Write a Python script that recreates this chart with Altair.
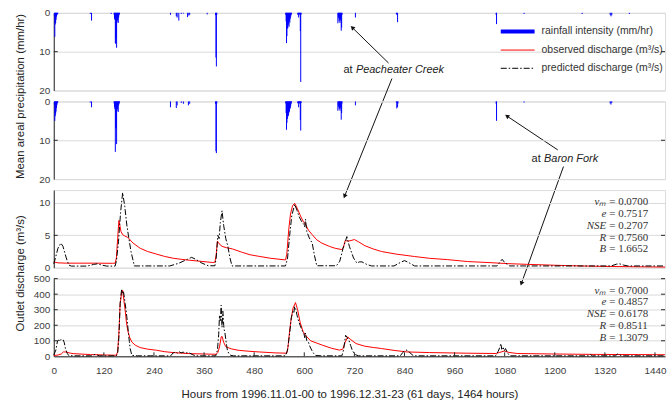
import math
import altair as alt
import pandas as pd

# ---------------- data ----------------
# hourly rainfall intensity (mm/hr) at Peacheater Creek
pc_rain_hours = [1, 2, 3, 4, 5, 6, 7, 8, 9, 87, 90, 137,
                 144, 145, 146, 147, 148, 149, 150, 151, 152, 153, 154, 155, 156, 157,
                 279, 293, 295, 299, 305, 310, 320, 323, 325, 367,
                 387, 388, 389, 390,
                 555, 556, 557, 558, 559, 560, 561, 562, 563, 564, 565, 566, 567, 568, 569,
                 584, 585, 586, 587, 588, 589, 590, 591, 592,
                 680, 681, 682, 683, 684, 685, 686, 687, 688, 689, 690, 722,
                 820, 821, 823, 1059, 1060, 1126, 1265, 1332, 1334, 1336, 1378]
pc_rain_vals = [0.8, 6.2, 3.0, 2.6, 1.8, 1.0, 0.6, 0.4, 0.3, 0.3, 2.0, 0.3,
                0.5, 1.5, 1.8, 7.8, 8.0, 6.5, 9.0, 2.5, 2.0, 1.5, 2.6, 1.2, 0.6, 0.3,
                0.5, 0.9, 1.2, 2.0, 0.3, 0.2, 1.1, 0.7, 0.5, 0.4,
                0.6, 11.5, 13.8, 0.5,
                0.5, 2.2, 7.8, 6.0, 4.0, 4.0, 3.2, 2.8, 3.6, 2.0, 2.5, 1.5, 1.0, 0.6, 0.3,
                0.5, 0.4, 1.2, 0.3, 0.3, 0.6, 4.7, 17.8, 0.4,
                2.7, 1.0, 1.4, 2.2, 1.8, 2.6, 1.5, 2.0, 4.6, 3.8, 0.5, 1.2,
                0.3, 0.5, 2.4, 0.5, 2.9, 0.3, 0.3, 0.5, 0.9, 0.6, 0.3]

# hourly rainfall intensity (mm/hr) at Baron Fork
bf_rain_hours = [1, 2, 3, 4, 5, 6, 7, 8, 9, 87, 90,
                 144, 145, 146, 147, 148, 149, 150, 151, 152, 153, 154, 155, 156, 157,
                 279, 293, 295, 305, 310, 322, 325,
                 387, 388, 389, 390,
                 555, 556, 557, 558, 559, 560, 561, 562, 563, 564, 565, 566, 567, 568, 569,
                 584, 585, 586, 587, 588, 589, 590, 591, 592,
                 680, 681, 682, 683, 684, 685, 686, 687, 688, 689, 690, 722,
                 820, 821, 823, 824, 1059, 1060, 1126, 1332, 1334, 1336]
bf_rain_vals = [0.8, 5.0, 3.8, 3.2, 2.6, 1.7, 1.0, 0.5, 0.3, 0.3, 1.5,
                0.5, 1.5, 2.0, 13.0, 6.8, 7.0, 11.0, 2.5, 2.0, 1.2, 2.7, 1.0, 0.6, 0.3,
                1.5, 1.7, 1.0, 0.4, 0.6, 1.0, 0.6,
                0.6, 12.8, 13.3, 0.5,
                0.5, 3.0, 7.3, 5.5, 4.5, 3.8, 3.8, 3.4, 2.8, 2.6, 2.0, 1.7, 1.2, 0.6, 0.3,
                0.5, 0.4, 1.5, 0.3, 0.3, 0.6, 4.8, 7.5, 0.4,
                2.4, 1.0, 1.4, 2.0, 1.8, 2.4, 1.5, 1.8, 4.7, 3.0, 0.5, 1.0,
                0.3, 1.8, 1.5, 0.5, 0.6, 5.0, 0.3, 0.5, 0.8, 0.4]

# Peacheater Creek discharge (m3/s)
pc_obs_hours = [0, 10, 30, 60, 100, 140, 147, 150, 153, 156, 158, 161, 165, 170, 177, 190, 207,
                225, 246, 265, 286, 305, 326, 350, 381, 386, 389, 392, 396, 403, 413, 428, 450,
                470, 492, 520, 555, 558, 563, 567, 572, 577, 583, 591, 597, 603, 610, 619, 630,
                642, 660, 674, 690, 694, 698, 705, 712, 720, 730, 745, 765, 785, 820, 864, 900,
                943, 991, 1040, 1090, 1133, 1200, 1260, 1320, 1400, 1464]
pc_obs_vals = [0.9, 0.75, 0.7, 0.7, 0.7, 0.68, 0.7, 1.5, 4.5, 7.3, 6.6, 5.6, 5.1, 4.9, 4.7, 3.8, 3.0,
               2.5, 2.1, 1.75, 1.46, 1.3, 1.15, 1.0, 0.8, 0.85, 2.0, 4.1, 3.7, 3.3, 3.1, 2.9, 2.4,
               2.0, 1.75, 1.45, 1.2, 2.0, 6.0, 8.3, 9.6, 9.95, 9.2, 8.0, 7.2, 6.7, 5.8, 5.1, 4.3,
               3.8, 3.3, 3.0, 2.8, 3.2, 4.2, 4.1, 4.2, 4.35, 4.0, 3.4, 2.9, 2.5, 2.1, 1.73, 1.45,
               1.25, 0.95, 0.8, 0.62, 0.52, 0.38, 0.27, 0.2, 0.14, 0.1]
pc_pred_hours = [0, 4, 10, 17, 22, 30, 36, 42, 80, 95, 104, 115, 127, 147, 150, 155, 160, 165, 170,
                 175, 179, 185, 193, 278, 300, 320, 330, 340, 355, 370, 386, 389, 393, 396, 399,
                 403, 407, 412, 417, 422, 427, 555, 560, 565, 570, 577, 583, 587, 593, 599, 601,
                 603, 606, 612, 619, 624, 630, 677, 685, 693, 702, 708, 718, 726, 732, 738, 750,
                 761, 815, 830, 840, 850, 864, 1062, 1070, 1074, 1080, 1092, 1335, 1348, 1355,
                 1365, 1375, 1464]
pc_pred_vals = [0.6, 1.5, 3.0, 3.8, 3.3, 1.5, 0.4, 0.25, 0.25, 0.5, 0.6, 0.4, 0.25, 0.25, 1.0, 4.0,
                8.5, 11.6, 9.5, 6.6, 4.9, 2.5, 0.27, 0.27, 0.7, 1.3, 1.6, 1.3, 0.7, 0.3, 0.3, 1.5,
                5.0, 4.5, 7.0, 8.8, 6.5, 4.5, 3.3, 1.5, 0.27, 0.27, 1.5, 5.0, 8.0, 9.8, 8.8, 8.0,
                7.2, 6.7, 6.3, 7.5, 5.6, 4.6, 3.8, 2.0, 0.3, 0.3, 1.0, 3.0, 4.8, 3.3, 1.5, 0.7,
                0.9, 0.9, 0.5, 0.27, 0.27, 0.8, 1.1, 0.8, 0.27, 0.27, 1.0, 1.3, 0.8, 0.27, 0.27,
                0.55, 0.6, 0.4, 0.27, 0.27]

# Baron Fork discharge (m3/s)
bf_obs_hours = [0, 10, 18, 23, 29, 40, 48, 88, 127, 150, 153, 156, 159, 163, 165, 168, 171, 174,
                177, 182, 187, 195, 207, 225, 246, 265, 286, 326, 360, 389, 393, 397, 401, 403,
                407, 412, 425, 444, 470, 492, 530, 558, 561, 564, 568, 573, 579, 584, 590, 597,
                603, 615, 630, 644, 665, 684, 692, 698, 704, 710, 724, 745, 765, 785, 815, 846,
                900, 988, 1059, 1068, 1079, 1090, 1110, 1192, 1300, 1400, 1464]
bf_obs_vals = [5, 8, 15, 28, 28, 20, 17, 11, 8, 7, 30, 150, 340, 415, 425, 360, 297, 220,
               168, 120, 92, 72, 56, 46, 39, 30, 24, 17, 15, 13, 25, 60, 125, 129,
               90, 62, 48, 38, 32, 28, 22, 20, 60, 140, 230, 310, 346, 300, 220, 160,
               135, 100, 85, 71, 52, 40, 45, 90, 125, 110, 82, 65, 57, 50, 38, 28,
               24, 20, 18, 25, 34, 25, 18, 15, 12, 11, 10]
bf_pred_hours = [0, 5, 9, 12, 14, 17, 20, 23, 25, 28, 32, 36, 45, 90, 96, 100, 104, 110, 150, 153,
                 156, 159, 162, 163, 165, 167, 169, 171, 173, 175, 177, 179, 181, 183, 187, 200,
                 280, 286, 292, 296, 300, 305, 310, 315, 320, 326, 333, 340, 388, 392, 395, 397,
                 399, 401, 403, 405, 406, 407, 408, 410, 412, 414, 416, 420, 424, 430, 555, 560,
                 565, 569, 573, 575, 577, 580, 583, 587, 590, 593, 596, 599, 601, 603, 606, 610,
                 614, 618, 622, 627, 640, 690, 694, 699, 703, 707, 711, 715, 719, 723, 730, 830,
                 836, 841, 846, 850, 856, 862, 1058, 1064, 1068, 1071, 1073, 1076, 1079, 1082,
                 1086, 1090, 1095, 1280, 1285, 1290, 1345, 1350, 1356, 1362, 1464]
bf_pred_vals = [8, 40, 99, 105, 95, 108, 100, 104, 90, 50, 20, 5, 3, 3, 10, 13, 8, 3, 3, 20,
                120, 340, 420, 430, 405, 415, 380, 340, 300, 254, 200, 147, 95, 50, 6, 3,
                3, 22, 28, 20, 30, 22, 27, 18, 25, 20, 10, 3, 3, 40, 140, 265,
                230, 329, 187, 290, 252, 200, 174, 150, 110, 70, 36, 15, 6, 3, 3, 40,
                150, 250, 290, 280, 320, 300, 260, 221, 200, 180, 160, 150, 120, 150, 100, 90,
                60, 39, 20, 6, 3, 3, 40, 135, 120, 103, 70, 39, 20, 10, 3, 3,
                25, 38, 40, 32, 15, 3, 3, 30, 55, 82, 45, 60, 35, 50,
                25, 10, 3, 3, 12, 3, 3, 14, 8, 3, 3]

stat_names = ["vₘ", "e", "NSE", "R", "B"]
pc_stats = ["= 0.0700", "= 0.7517", "= 0.2707", "= 0.7560", "= 1.6652"]
bf_stats = ["= 0.7000", "= 0.4857", "= 0.6178", "= 0.8511", "= 1.3079"]

legend_labels = ["rainfall intensity (mm/hr)", "observed discharge (m³/s)",
                 "predicted discharge (m³/s)"]
x_ticks = list(range(0, 1441, 120))

# ---------------- layout ----------------
W, H = 614, 78
FONT = "Liberation Sans"
SERIF = "Liberation Serif"
DARK = "#262626"
DASH = [6, 2, 1.5, 2]

xscale = alt.Scale(domain=[0, 1464], nice=False, zero=False)
NOX = alt.Axis(labels=False, ticks=False, grid=False, domain=False, title=None)


def yaxis(values, title=None, title_y=None):
    kw = dict(values=values, ticks=False, grid=True, gridColor="#dadada", gridWidth=1,
              domainColor=DARK, labelFont=FONT, labelFontSize=10, labelColor="#404040",
              labelPadding=4, format="d")
    if title:
        kw.update(title=title, titleX=-33, titleY=title_y, titleAngle=270, titleAlign="center",
                  titleBaseline="middle", titleFont=FONT, titleFontSize=11.5,
                  titleFontWeight="normal", titleColor="#222222")
    else:
        kw.update(title="")
    return alt.Axis(**kw)


def inward_ticks(values, scale, yax):
    df = pd.DataFrame({"v": values})
    base = alt.Chart(df).mark_rule(color=DARK, strokeWidth=1)
    left = base.encode(y=alt.Y("v:Q", scale=scale, axis=yax), x=alt.value(0), x2=alt.value(4))
    right = base.encode(y=alt.Y("v:Q", scale=scale, axis=yax), x=alt.value(W - 4), x2=alt.value(W))
    return [left, right]


def rain_panel(hours, vals, title=None):
    df = pd.DataFrame({"hour": [h + 0.5 for h in hours], "rain": vals, "zero": [0] * len(vals)})
    ys = alt.Scale(domain=[0, 20], reverse=True, nice=False)
    yax = yaxis([0, 10, 20], title, 83.5)
    bars = alt.Chart(df).mark_rule(color="#0000ff", strokeWidth=1).encode(
        x=alt.X("hour:Q", scale=xscale, axis=NOX),
        y=alt.Y("rain:Q", scale=ys, axis=yax),
        y2="zero:Q",
    )
    return [bars] + inward_ticks([10], ys, yax)


def flow_panel(oh, ov, ph, pv, ymax, yvals, stats, title=None, bottom=False):
    ys = alt.Scale(domain=[0, ymax], nice=False)
    yax = yaxis(yvals, title, 83.2)
    if bottom:
        xax = alt.Axis(values=x_ticks, ticks=False, grid=False, domainColor=DARK, labelFont=FONT,
                       labelFontSize=10, labelColor="#404040", labelPadding=9, format="d",
                       labelFlush=False,
                       title="Hours from 1996.11.01-00 to 1996.12.31-23 (61 days, 1464 hours)",
                       titleFont=FONT, titleFontSize=11.5, titleFontWeight="normal",
                       titleColor="#222222", titleX=297, titleY=38, titleAlign="center",
                       titleBaseline="middle")
    else:
        xax = NOX
    obs = alt.Chart(pd.DataFrame({"hour": oh, "q": ov})).mark_line(
        color="#ff0000", strokeWidth=1).encode(
        x=alt.X("hour:Q", scale=xscale, axis=xax),
        y=alt.Y("q:Q", scale=ys, axis=yax),
    )
    pred = alt.Chart(pd.DataFrame({"hour": ph, "q": pv})).mark_line(
        color="#000000", strokeWidth=1, strokeDash=DASH).encode(
        x=alt.X("hour:Q", scale=xscale, axis=xax),
        y=alt.Y("q:Q", scale=ys, axis=yax),
    )
    sdf = pd.DataFrame({"name": stat_names, "val": stats,
                        "py": [12 + 11.9 * i for i in range(len(stats))]})
    names = alt.Chart(sdf).mark_text(align="right", baseline="middle", font=SERIF,
                                     fontStyle="italic", fontSize=11, color="#333333").encode(
        x=alt.value(555), y=alt.Y("py:Q", scale=None), text="name:N")
    vals = alt.Chart(sdf).mark_text(align="left", baseline="middle", font=SERIF,
                                    fontSize=11, color="#333333").encode(
        x=alt.value(558), y=alt.Y("py:Q", scale=None), text="val:N")
    layers = [obs, pred, names, vals] + inward_ticks(yvals[1:-1] if not bottom else yvals[1:], ys, yax)
    if bottom:
        tdf = pd.DataFrame({"t": x_ticks[1:]})
        layers.append(alt.Chart(tdf).mark_rule(color=DARK, strokeWidth=1).encode(
            x=alt.X("t:Q", scale=xscale, axis=xax), y=alt.value(H - 4), y2=alt.value(H)))
    return layers


# ---------------- panel 1 extras: legend and annotations (pixel layout) ----------------
OX, OY = 53, 11.3
leg_y = [30 - OY, 48.7 - OY, 67 - OY]
leg_x0, leg_x1, leg_tx = 502 - OX, 536 - OX, 543 - OX

legend_layers = []
for i, (col, sw, dash) in enumerate([("#0000ff", 4, None), ("#ff0000", 1, None),
                                      ("#000000", 1, DASH)]):
    kw = dict(color=col, strokeWidth=sw)
    if dash:
        kw["strokeDash"] = dash
    legend_layers.append(
        alt.Chart(pd.DataFrame({"k": [i]})).mark_rule(**kw).encode(
            x=alt.value(leg_x0), x2=alt.value(leg_x1), y=alt.value(leg_y[i])))
legend_layers.append(
    alt.Chart(pd.DataFrame({"label": legend_labels, "py": leg_y})).mark_text(
        align="left", baseline="middle", font=FONT, fontSize=10.5, color="#333333").encode(
        x=alt.value(leg_tx), y=alt.Y("py:Q", scale=None), text="label:N"))

ann_plain = pd.DataFrame({"txt": ["at", "at"], "px": [344 - OX, 533 - OX],
                          "py": [69 - OY, 157.7 - OY]})
ann_ital = pd.DataFrame({"txt": ["Peacheater Creek", "Baron Fork"],
                         "px": [356.5 - OX, 545.5 - OX], "py": [69 - OY, 157.7 - OY]})
ann_layers = [
    alt.Chart(ann_plain).mark_text(align="left", baseline="middle", font=FONT, fontSize=11,
                                   color="#222222").encode(
        x=alt.X("px:Q", scale=None), y=alt.Y("py:Q", scale=None), text="txt:N"),
    alt.Chart(ann_ital).mark_text(align="left", baseline="middle", font=FONT, fontSize=11,
                                  fontStyle="italic", color="#222222").encode(
        x=alt.X("px:Q", scale=None), y=alt.Y("py:Q", scale=None), text="txt:N"),
]

arrows_abs = [((389.3, 61.7), (350.7, 24.0)),
              ((392.7, 77.3), (344.0, 198.3)),
              ((559.3, 149.0), (505.7, 113.3)),
              ((565.0, 165.7), (521.7, 286.0))]
rows, heads = [], []
for (x0, y0), (x1, y1) in arrows_abs:
    dx, dy = x1 - x0, y1 - y0
    L = math.hypot(dx, dy)
    ux, uy = dx / L, dy / L
    rows.append({"x": x0 - OX, "y": y0 - OY, "x2": x1 - OX - ux * 3, "y2": y1 - OY - uy * 3})
    ang = math.degrees(math.atan2(ux, -uy)) % 360
    heads.append({"x": x1 - OX - ux * 3, "y": y1 - OY - uy * 3, "a": ang})
ann_layers.append(alt.Chart(pd.DataFrame(rows)).mark_rule(color="#111111", strokeWidth=1).encode(
    x=alt.X("x:Q", scale=None), y=alt.Y("y:Q", scale=None),
    x2="x2:Q", y2="y2:Q"))
ann_layers.append(alt.Chart(pd.DataFrame(heads)).mark_point(
    shape="triangle-up", filled=True, size=24, color="#111111", opacity=1).encode(
    x=alt.X("x:Q", scale=None), y=alt.Y("y:Q", scale=None),
    angle=alt.Angle("a:Q", scale=None)))

p1 = alt.layer(*(rain_panel(pc_rain_hours, pc_rain_vals, "Mean areal precipitation (mm/hr)")
                 + legend_layers + ann_layers)).properties(width=W, height=H)
p2 = alt.layer(*rain_panel(bf_rain_hours, bf_rain_vals)).properties(width=W, height=H)
p3 = alt.layer(*flow_panel(pc_obs_hours, pc_obs_vals, pc_pred_hours, pc_pred_vals, 12,
                           [0, 5, 10], pc_stats, "Outlet discharge (m³/s)")).properties(width=W, height=H)
p4 = alt.layer(*flow_panel(bf_obs_hours, bf_obs_vals, bf_pred_hours, bf_pred_vals, 500,
                           [0, 100, 200, 300, 400, 500], bf_stats, bottom=True)).properties(width=W, height=H)

chart = alt.vconcat(p1, p2, p3, p4, spacing=11, bounds="flush").properties(
    padding={"left": 14, "top": 6, "right": 0, "bottom": 0}
).configure_view(stroke=DARK, strokeWidth=1).configure(background="white")

chart.save("out.html", embed_options={"renderer": "svg", "actions": False})
